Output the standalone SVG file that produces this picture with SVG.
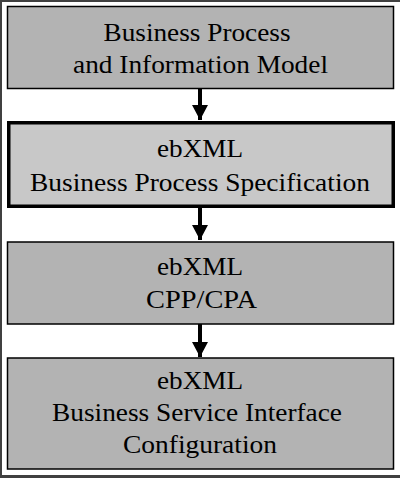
<svg xmlns="http://www.w3.org/2000/svg" width="400" height="478" viewBox="0 0 400 478">
<style>
.box{fill:#b3b3b3;stroke:#000;stroke-width:1.5}
.hl{fill:#c8c8c8;stroke:#000;stroke-width:3.5}
.t{font-family:'Liberation Serif','Times New Roman','DejaVu Serif',serif;font-size:26px;fill:#000;text-anchor:middle}
.c{stroke:#000;stroke-width:4;fill:none}
</style>
<defs>
<marker id="ah" markerUnits="userSpaceOnUse" markerWidth="16" markerHeight="16" viewBox="0 0 16 16" refX="15" refY="8" orient="auto">
<path d="M0,0 L15,8 L0,16 Z" fill="#000"/>
</marker>
</defs>
<rect width="400" height="478" fill="#fff"/>
<path d="M0,0 H400 V2 H2 V475 H400 V478 H0 Z" fill="#404040"/>
<g id="connectors">
<line class="c" x1="200" y1="89" x2="200" y2="120" marker-end="url(#ah)"/>
<line class="c" x1="200" y1="208" x2="200" y2="240" marker-end="url(#ah)"/>
<line class="c" x1="200" y1="324" x2="200" y2="357" marker-end="url(#ah)"/>
</g>
<g id="bpim">
<rect class="box" x="7.5" y="6.5" width="386" height="82"/>
<text class="t" font-family="Liberation Serif, serif" x="197" y="41" textLength="187" lengthAdjust="spacingAndGlyphs">Business Process</text>
<text class="t" font-family="Liberation Serif, serif" x="200.5" y="73" textLength="255" lengthAdjust="spacingAndGlyphs">and Information Model</text>
</g>
<g id="bps">
<rect class="hl" x="8.75" y="122.75" width="384.5" height="83.5"/>
<text class="t" font-family="Liberation Serif, serif" x="200" y="157" textLength="86" lengthAdjust="spacingAndGlyphs">ebXML</text>
<text class="t" font-family="Liberation Serif, serif" x="200" y="191" textLength="340" lengthAdjust="spacingAndGlyphs">Business Process Specification</text>
</g>
<g id="cpp">
<rect class="box" x="7.5" y="242" width="386" height="82"/>
<text class="t" font-family="Liberation Serif, serif" x="200" y="275" textLength="86" lengthAdjust="spacingAndGlyphs">ebXML</text>
<text class="t" font-family="Liberation Serif, serif" x="201.5" y="308" textLength="111" lengthAdjust="spacingAndGlyphs">CPP/CPA</text>
</g>
<g id="bsi">
<rect class="box" x="7.5" y="358" width="386" height="111"/>
<text class="t" font-family="Liberation Serif, serif" x="200" y="389" textLength="86" lengthAdjust="spacingAndGlyphs">ebXML</text>
<text class="t" font-family="Liberation Serif, serif" x="197" y="421" textLength="290" lengthAdjust="spacingAndGlyphs">Business Service Interface</text>
<text class="t" font-family="Liberation Serif, serif" x="200" y="453" textLength="154" lengthAdjust="spacingAndGlyphs">Configuration</text>
</g>
</svg>
